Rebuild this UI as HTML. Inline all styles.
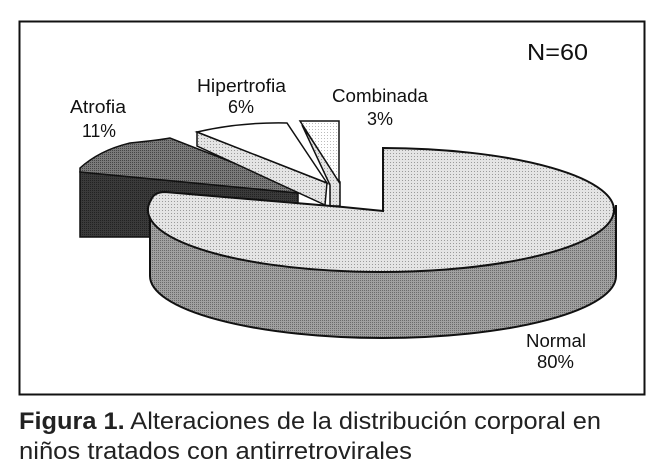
<!DOCTYPE html>
<html><head><meta charset="utf-8"><style>
body{margin:0;background:#fff;width:660px;height:473px;overflow:hidden;font-family:"Liberation Sans",sans-serif}
</style></head><body>
<svg width="660" height="473" xmlns="http://www.w3.org/2000/svg" style="position:absolute;left:0;top:0">
<defs>
<pattern id="lt" width="3" height="3" patternUnits="userSpaceOnUse"><rect width="3" height="3" fill="#e4e4e4"/><rect width="1" height="1" fill="#9a9a9a"/></pattern>
<pattern id="md" width="2" height="2" patternUnits="userSpaceOnUse"><rect width="2" height="2" fill="#a0a0a0"/><rect width="1" height="1" fill="#6a6a6a"/></pattern>
<pattern id="dk" width="2" height="2" patternUnits="userSpaceOnUse"><rect width="2" height="2" fill="#3a3a3a"/><rect width="1" height="1" fill="#222"/></pattern>
<pattern id="at" width="2" height="2" patternUnits="userSpaceOnUse"><rect width="2" height="2" fill="#7a7a7a"/><rect width="1" height="1" fill="#444"/></pattern>
<pattern id="dot" width="3" height="3" patternUnits="userSpaceOnUse"><rect width="3" height="3" fill="#fff"/><rect width="1" height="1" fill="#bbb"/></pattern>
</defs>
<rect x="19.5" y="21.5" width="625" height="373" fill="#fff" stroke="#111" stroke-width="2"/>
<polygon points="80,172 298,193 298,216 150,216 150,237 80,237" fill="url(#dk)" stroke="#111" stroke-width="1.5"/>
<path d="M80,168 Q100,150 130,143 Q160,140 170,138 L298,188 L298,193 L80,172 Z" fill="url(#at)" stroke="#111" stroke-width="1.5"/>
<polygon points="197,132 197,146 325,205 327,183" fill="url(#lt)" stroke="#111" stroke-width="1.5"/>
<path d="M197,132 Q240,122 287,123 L327,183 Z" fill="#fff" stroke="#111" stroke-width="1.5"/>
<polygon points="302,125 330,185 330,206 340,206 340,182" fill="url(#lt)" stroke="#111" stroke-width="1.5"/>
<polygon points="300,121 339,121 339,182" fill="url(#dot)" stroke="#111" stroke-width="1.5"/>
<path d="M150,205 A233,62 0 0,0 616,205 L616,276 A233,62 0 0,1 150,276 Z" fill="url(#md)" stroke="#111" stroke-width="2"/>
<path d="M383,211 L383,148 A233,62 0 1,1 151,200 Q154,192 165,192 L343,207 Z" fill="url(#lt)" stroke="#111" stroke-width="2"/>
<g font-size="18" fill="#111">
<text x="70" y="113" textLength="56" lengthAdjust="spacingAndGlyphs">Atrofia</text>
<text x="82" y="137" textLength="34" lengthAdjust="spacingAndGlyphs">11%</text>
<text x="197" y="92" textLength="89" lengthAdjust="spacingAndGlyphs">Hipertrofia</text>
<text x="228" y="113" textLength="26" lengthAdjust="spacingAndGlyphs">6%</text>
<text x="332" y="102" textLength="96" lengthAdjust="spacingAndGlyphs">Combinada</text>
<text x="367" y="125" textLength="26" lengthAdjust="spacingAndGlyphs">3%</text>
<text x="526" y="347" textLength="60" lengthAdjust="spacingAndGlyphs">Normal</text>
<text x="537" y="368" textLength="37" lengthAdjust="spacingAndGlyphs">80%</text>
</g>
<text x="527" y="60" font-size="23" fill="#111" textLength="61" lengthAdjust="spacingAndGlyphs">N=60</text>
<text x="19" y="429" font-size="24" fill="#222" textLength="582" lengthAdjust="spacingAndGlyphs"><tspan font-weight="bold">Figura 1.</tspan> Alteraciones de la distribución corporal en</text>
<text x="19" y="459" font-size="24" fill="#222" textLength="393" lengthAdjust="spacingAndGlyphs">niños tratados con antirretrovirales</text>
</svg>
</body></html>
